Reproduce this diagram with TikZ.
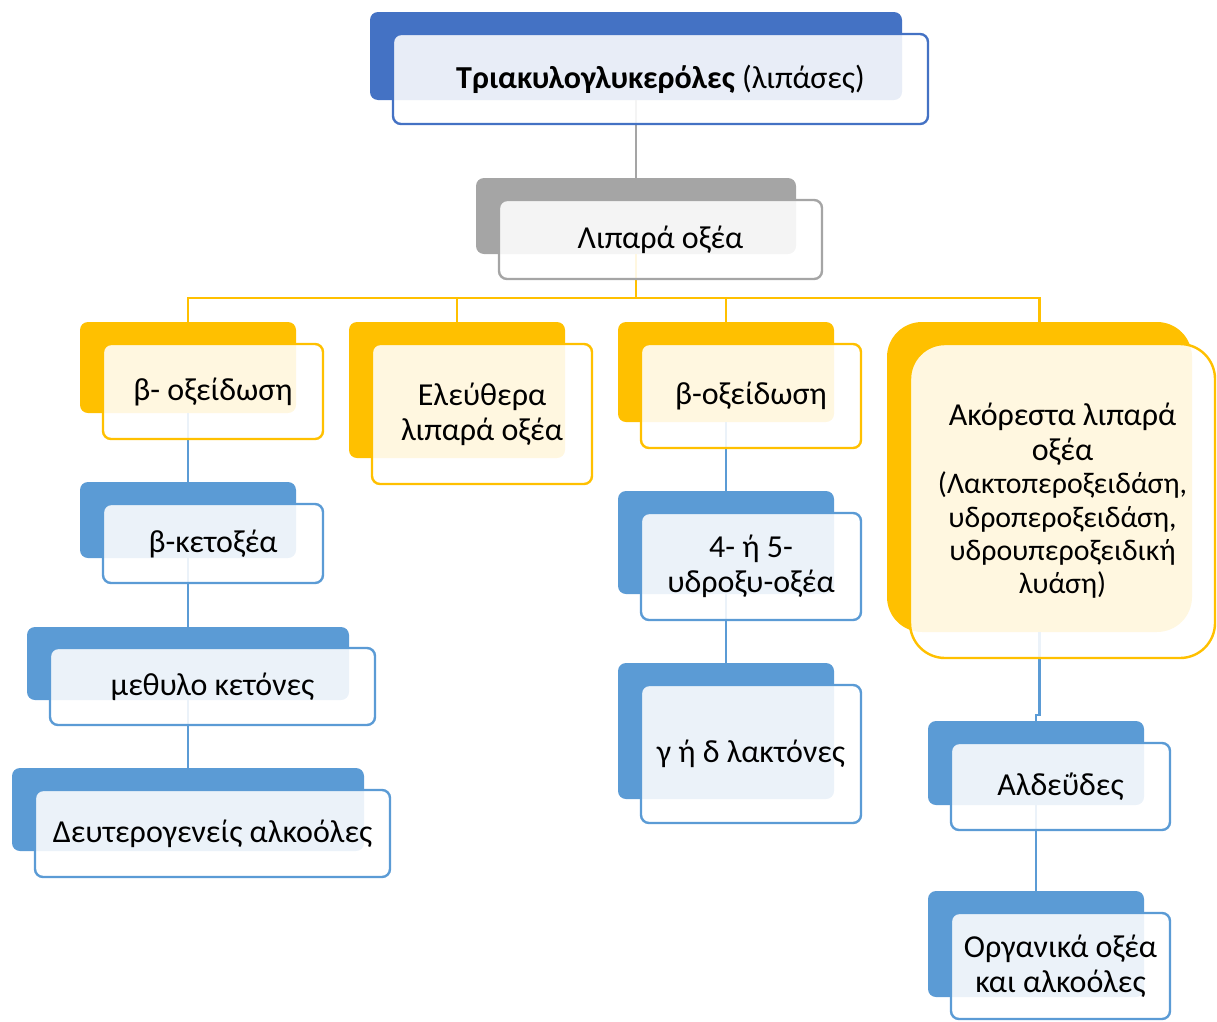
\documentclass[tikz,border=0pt]{standalone}
\usepackage{fontspec}
\setmainfont{Carlito}
\begin{document}
\begin{tikzpicture}[x=0.75pt,y=-0.75pt]
\newdimen\pu \pu=0.75pt
\definecolor{topblue}{HTML}{4472C4}
\definecolor{midgray}{HTML}{A5A5A5}
\definecolor{gold}{HTML}{FFC000}
\definecolor{lblue}{HTML}{5B9BD5}
\tikzset{
  back/.style={draw=none, fill=#1, rounded corners=8*\pu, inner sep=0pt},
  front/.style={draw=#1, line width=2.4*\pu, fill=white, fill opacity=0.88, text opacity=1,
    rounded corners=8*\pu, align=center, inner sep=0pt, font=\fontsize{24}{26}\selectfont},
  sz/.style 2 args={minimum width=#1*\pu, minimum height=#2*\pu},
  conn/.style={draw=#1, line width=2.4*\pu}
}
\useasboundingbox (0,0) rectangle (1217,1021);
% back boxes
\node[back=topblue, sz={532}{88}] (topB) at (636,56) {};
\node[back=midgray, sz={320}{76}] (lipB) at (636,216) {};
\node[back=gold, sz={216}{91}] (b1B) at (188,367.5) {};
\node[back=gold, sz={216}{136}] (eleB) at (457,390) {};
\node[back=gold, sz={216}{100}] (b3B) at (726,372) {};
\node[back=gold, sz={305}{310}, rounded corners=35*\pu] (akoB) at (1039.5,477) {};
\node[back=lblue, sz={216}{76}] (ketB) at (188,520) {};
\node[back=lblue, sz={322}{73}] (methB) at (188,663.5) {};
\node[back=lblue, sz={352}{83}] (deutB) at (188,809.5) {};
\node[back=lblue, sz={216}{103}] (hydB) at (726,542.5) {};
\node[back=lblue, sz={216}{136}] (lacB) at (726,731) {};
\node[back=lblue, sz={216}{84}] (aldB) at (1036,763) {};
\node[back=lblue, sz={216}{106}] (orgB) at (1036,944) {};
% connectors
\draw[conn=midgray] (topB.south) -- (lipB.north);
\draw[conn=gold] (lipB.south) -- ++(0,44) coordinate (bus) -| (b1B.north);
\draw[conn=gold] (bus) -| (eleB.north);
\draw[conn=gold] (bus) -| (b3B.north);
\draw[conn=gold] (bus) -| (akoB.north);
\draw[conn=lblue] (b1B.south) -- (ketB.north);
\draw[conn=lblue] (ketB.south) -- (methB.north);
\draw[conn=lblue] (methB.south) -- (deutB.north);
\draw[conn=lblue] (b3B.south) -- (hydB.north);
\draw[conn=lblue] (hydB.south) -- (lacB.north);
\draw[conn=lblue] (akoB.south) -- ++(0,83) -| (aldB.north);
\draw[conn=lblue] (aldB.south) -- (orgB.north);
% front boxes
\node[front=topblue, sz={535}{90}] (topF) at (660.5,79) {\textbf{Τριακυλογλυκερόλες} (λιπάσες)};
\node[front=midgray, sz={323}{79}] (lipF) at (660.5,239.5) {Λιπαρά οξέα};
\node[front=gold, sz={220}{95}] (b1F) at (213,391.5) {β- οξείδωση};
\node[front=gold, sz={220}{140}] (eleF) at (482,414) {Ελεύθερα\\λιπαρά οξέα};
\node[front=gold, sz={220}{104}] (b3F) at (751,396) {β-οξείδωση};
\node[front=gold, sz={305}{314}, rounded corners=35*\pu, font=\fontsize{22.4}{25}\selectfont] (akoF) at (1062.5,501)
  {{\fontsize{24}{26}\selectfont Ακόρεστα λιπαρά}\\[1pt]{\fontsize{24}{26}\selectfont οξέα}\\(Λακτοπεροξειδάση,\\υδροπεροξειδάση,\\υδρουπεροξειδική\\λυάση)};
\node[front=lblue, sz={220}{79}] (ketF) at (213,543.5) {β-κετοξέα};
\node[front=lblue, sz={325}{77}] (methF) at (212.5,686.5) {μεθυλο κετόνες};
\node[front=lblue, sz={355}{87}] (deutF) at (212.5,833.5) {Δευτερογενείς αλκοόλες};
\node[front=lblue, sz={220}{107}] (hydF) at (751,566.5) {4- ή 5-\\υδροξυ-οξέα};
\node[front=lblue, sz={220}{138}] (lacF) at (751,754) {γ ή δ λακτόνες};
\node[front=lblue, sz={219}{87}] (aldF) at (1060.5,786.5) {Αλδεΰδες};
\node[front=lblue, sz={219}{106}] (orgF) at (1060.5,966) {Οργανικά οξέα\\και αλκοόλες};
\end{tikzpicture}
\end{document}
